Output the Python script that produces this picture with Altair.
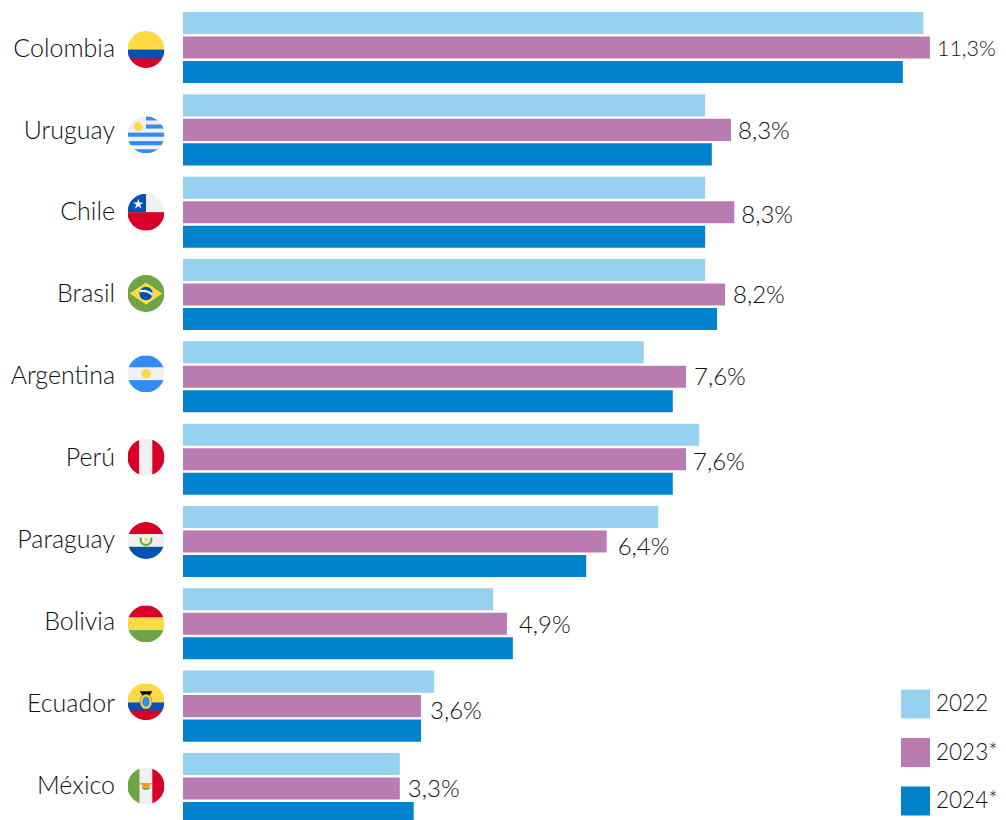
import base64
import altair as alt
import pandas as pd

countries = ["Colombia", "Uruguay", "Chile", "Brasil", "Argentina", "Perú", "Paraguay", "Bolivia", "Ecuador", "México"]
years = ["2022", "2023*", "2024*"]
v2022 = [11.20, 7.90, 7.90, 7.90, 6.97, 7.81, 7.19, 4.69, 3.80, 3.28]
v2023 = [11.30, 8.29, 8.34, 8.20, 7.61, 7.61, 6.41, 4.90, 3.60, 3.28]
v2024 = [10.89, 8.00, 7.90, 8.08, 7.41, 7.41, 6.10, 4.99, 3.60, 3.49]
labels = ["11,3%", "8,3%", "8,3%", "8,2%", "7,6%", "7,6%", "6,4%", "4,9%", "3,6%", "3,3%"]
colors = ["#97D1F0", "#B97BB0", "#0082CC"]

# small hand adjustments (px) of the source's labels and flags
label_dx = [7, 7, 7, 8, 8, 7, 11, 12, 9, 8]
label_dy = [2, 2, 4, 1, 1, 4, 7, 2, 6, 2]
label_size = [21.5, 24, 24, 24, 24, 24, 24, 24, 24, 24]
name_dy = [1, 1, 0, -1, -1, -1, -1, -2, -2, -2]
flag_dy = [2, 5, 0, -1, -3, -2, -1, 0, -4.5, -2.5]

Y, W, R, B, G, L = "#FFDA44", "#F0F0F0", "#D80027", "#0052B4", "#6DA544", "#338AF3"


def svg(body):
    s = ('<svg xmlns="http://www.w3.org/2000/svg" viewBox="0 0 100 100">'
         '<defs><clipPath id="c"><circle cx="50" cy="50" r="50"/></clipPath></defs>'
         '<g clip-path="url(#c)">' + body + "</g></svg>")
    return "data:image/svg+xml;base64," + base64.b64encode(s.encode()).decode()


def rect(x, y, w, h, c):
    return f'<rect x="{x}" y="{y}" width="{w}" height="{h}" fill="{c}"/>'


flags = {
    "Colombia": svg(rect(0, 0, 100, 50, Y) + rect(0, 50, 100, 26, B) + rect(0, 74, 100, 26, R)),
    "Uruguay": svg(rect(0, 0, 100, 100, W)
                   + rect(50, 0, 50, 11, L) + rect(50, 22, 50, 11, L) + rect(0, 44, 100, 11, L)
                   + rect(0, 67, 100, 11, L) + rect(0, 89, 100, 11, L)
                   + f'<circle cx="29" cy="28" r="12" fill="{Y}"/>'),
    "Chile": svg(rect(0, 0, 100, 50, W) + rect(0, 50, 100, 50, R) + rect(0, 0, 50, 50, B)
                 + '<polygon points="29,14 32.5,24 43,24 34.5,30 38,41 29,34 20,41 23.5,30 15,24 25.5,24" fill="#F0F0F0"/>'),
    "Brasil": svg(rect(0, 0, 100, 100, G) + f'<polygon points="50,20 94,50 50,80 6,50" fill="{Y}"/>'
                  + f'<circle cx="50" cy="50" r="18" fill="{B}"/>'
                  + f'<path d="M33,44a36,36 0 0 1 35,10" fill="none" stroke="{W}" stroke-width="6"/>'),
    "Argentina": svg(rect(0, 0, 100, 33, L) + rect(0, 33, 100, 34, W) + rect(0, 67, 100, 33, L)
                     + f'<circle cx="50" cy="50" r="13" fill="{Y}"/>'),
    "Perú": svg(rect(0, 0, 32, 100, R) + rect(32, 0, 35, 100, W) + rect(67, 0, 33, 100, R)),
    "Paraguay": svg(rect(0, 0, 100, 33, R) + rect(0, 33, 100, 34, W) + rect(0, 67, 100, 33, B)
                    + f'<path d="M36,42a15,15 0 1 0 28,0" fill="none" stroke="{G}" stroke-width="6"/>'
                    + f'<circle cx="50" cy="48" r="5" fill="{Y}"/>'),
    "Bolivia": svg(rect(0, 0, 100, 33, R) + rect(0, 33, 100, 34, Y) + rect(0, 67, 100, 33, G)),
    "Ecuador": svg(rect(0, 0, 100, 52, Y) + rect(0, 52, 100, 24, B) + rect(0, 74, 100, 26, R)
                   + '<polygon points="33,22 67,22 58,36 42,36" fill="#000"/>'
                   + f'<ellipse cx="50" cy="50" rx="16" ry="20" fill="{Y}" stroke="#A2801E" stroke-width="2"/>'
                   + f'<ellipse cx="50" cy="50" rx="10" ry="14" fill="{L}"/>'),
    "México": svg(rect(0, 0, 33, 100, G) + rect(33, 0, 34, 100, W) + rect(67, 0, 33, 100, R)
                  + '<path d="M34,42h32l-8,10a12,12 0 0 1 -16,0z" fill="#FF9811"/>'
                  + f'<path d="M38,54a14,14 0 0 0 24,0l-5,-1a9,9 0 0 1 -14,0z" fill="{G}"/>'),
}

bars = pd.DataFrame(
    [{"country": c, "year": y, "value": v}
     for y, vals in zip(years, [v2022, v2023, v2024])
     for c, v in zip(countries, vals)]
)
rows = pd.DataFrame({"country": countries, "v2023": v2023, "label": labels})

FONT = "Lato"
INK = "#111111"
x_scale = alt.Scale(domain=[0, 12.33], range=[175, 990], nice=False, zero=False)
y_scale = alt.Scale(domain=countries, range=[4, 816], paddingInner=0.137, paddingOuter=0)

bar = alt.Chart(bars).mark_bar(clip=True).encode(
    x=alt.X("value:Q", scale=x_scale, axis=None),
    y=alt.Y("country:N", scale=y_scale, axis=None, sort=countries),
    yOffset=alt.YOffset("year:N", scale=alt.Scale(domain=years, paddingInner=0.1, paddingOuter=0), sort=years),
    color=alt.Color("year:N", scale=alt.Scale(domain=years, range=colors), legend=alt.Legend(
        orient="none", legendX=893, legendY=681.5, title=None, symbolType="square",
        symbolSize=841, symbolStrokeWidth=0, symbolOpacity=1, labelFontSize=22.5,
        labelFont=FONT, labelFontWeight=300, labelColor=INK, rowPadding=19.5, labelOffset=6, labelLimit=200)),
)

layers = [bar]
for i, c in enumerate(countries):
    one = rows[rows.country == c]
    layers.append(alt.Chart(one).mark_text(
        align="left", baseline="middle", dx=label_dx[i], dy=label_dy[i],
        font=FONT, fontWeight=300, fontSize=label_size[i], color=INK).encode(
        x=alt.X("v2023:Q", scale=x_scale, axis=None),
        y=alt.Y("country:N", scale=y_scale, axis=None, sort=countries),
        text="label:N"))
    layers.append(alt.Chart(one).mark_text(
        align="right", baseline="middle", dy=name_dy[i],
        font=FONT, fontWeight=300, fontSize=25, color=INK).encode(
        x=alt.value(107),
        y=alt.Y("country:N", scale=y_scale, axis=None, sort=countries),
        text="country:N"))
    layers.append(alt.Chart(one.assign(flag=flags[c])).mark_image(
        width=37, height=37, yOffset=flag_dy[i]).encode(
        x=alt.value(138),
        y=alt.Y("country:N", scale=y_scale, axis=None, sort=countries),
        url="flag:N"))

chart = alt.layer(*layers).properties(
    width=990, height=812, padding=0, autosize=alt.AutoSizeParams(type="none")
).configure_view(stroke=None)

chart.save("out.html", embed_options={"renderer": "svg", "actions": False})
